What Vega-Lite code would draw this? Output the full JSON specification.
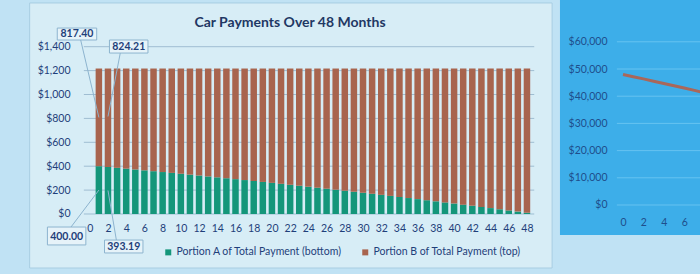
{
  "$schema": "https://vega.github.io/schema/vega-lite/v6.json",
  "background": "#c0e2f4",
  "width": 700,
  "height": 274,
  "autosize": {"type": "none"},
  "padding": 0,
  "config": {
    "font": "Lato",
    "view": {"stroke": null},
    "axis": {"labelFont": "Lato", "labelFontSize": 10.5, "labelColor": "#1f3f7a", "domain": false, "ticks": false, "grid": false, "zindex": 1, "labelOverlap": false, "labelFlush": false}
  },
  "title": {"text": "Car Payments Over 48 Months", "offset": -33, "dy": 4, "fontSize": 14, "fontWeight": "bold", "color": "#1f3864", "dx": -60, "anchor": "middle", "font": "Lato"},
  "datasets": {
    "pay": [
      {"m":1,"A":400.00,"B":817.40},{"m":2,"A":393.19,"B":824.21},{"m":3,"A":386.32,"B":831.08},{"m":4,"A":379.39,"B":838.01},
      {"m":5,"A":372.41,"B":844.99},{"m":6,"A":365.37,"B":852.03},{"m":7,"A":358.27,"B":859.13},{"m":8,"A":351.11,"B":866.29},
      {"m":9,"A":343.89,"B":873.51},{"m":10,"A":336.61,"B":880.79},{"m":11,"A":329.27,"B":888.13},{"m":12,"A":321.87,"B":895.53},
      {"m":13,"A":314.41,"B":902.99},{"m":14,"A":306.88,"B":910.52},{"m":15,"A":299.30,"B":918.10},{"m":16,"A":291.64,"B":925.76},
      {"m":17,"A":283.93,"B":933.47},{"m":18,"A":276.15,"B":941.25},{"m":19,"A":268.31,"B":949.09},{"m":20,"A":260.40,"B":957.00},
      {"m":21,"A":252.42,"B":964.98},{"m":22,"A":244.38,"B":973.02},{"m":23,"A":236.27,"B":981.13},{"m":24,"A":228.08,"B":989.32},
      {"m":25,"A":219.85,"B":997.55},{"m":26,"A":211.54,"B":1005.86},{"m":27,"A":203.16,"B":1014.24},{"m":28,"A":194.70,"B":1022.70},
      {"m":29,"A":186.18,"B":1031.22},{"m":30,"A":177.59,"B":1039.81},{"m":31,"A":168.92,"B":1048.48},{"m":32,"A":160.19,"B":1057.21},
      {"m":33,"A":151.37,"B":1066.03},{"m":34,"A":142.49,"B":1074.91},{"m":35,"A":133.53,"B":1083.87},{"m":36,"A":124.50,"B":1092.90},
      {"m":37,"A":115.39,"B":1102.01},{"m":38,"A":106.21,"B":1111.19},{"m":39,"A":96.95,"B":1120.45},{"m":40,"A":87.61,"B":1129.79},
      {"m":41,"A":78.20,"B":1139.20},{"m":42,"A":68.70,"B":1148.70},{"m":43,"A":59.13,"B":1158.27},{"m":44,"A":49.48,"B":1167.92},
      {"m":45,"A":39.75,"B":1177.65},{"m":46,"A":29.94,"B":1187.46},{"m":47,"A":20.04,"B":1197.36},{"m":48,"A":10.06,"B":1207.34}
    ],
    "ann": [
      {"t":"817.40","x1":-3.57,"x2":0.76,"y1":1456,"y2":1556,"tx":-1.41,"ty":1506,"lx1":-1.0,"ly1":1456,"lx2":1,"ly2":808},
      {"t":"400.00","x1":-4.65,"x2":-0.43,"y1":-259,"y2":-109,"tx":-2.54,"ty":-190,"lx1":-2.06,"ly1":-109,"lx2":1,"ly2":200},
      {"t":"824.21","x1":2.16,"x2":6.39,"y1":1347,"y2":1456,"tx":4.28,"ty":1401,"lx1":3.35,"ly1":1347,"lx2":2,"ly2":816},
      {"t":"393.19","x1":1.62,"x2":5.84,"y1":-326,"y2":-218,"tx":3.73,"ty":-272,"lx1":2.92,"ly1":-218,"lx2":2,"ly2":197}
    ],
    "one": [{}],
    "grid": [{"v":0},{"v":200},{"v":400},{"v":600},{"v":800},{"v":1000},{"v":1200},{"v":1400}],
    "rgrid": [{"v":0},{"v":10000},{"v":20000},{"v":30000},{"v":40000},{"v":50000},{"v":60000}],
    "bal": [
      {"m":0,"b":48000},{"m":1,"b":47182.60},{"m":2,"b":46358.39},{"m":3,"b":45527.31},{"m":4,"b":44689.30},
      {"m":5,"b":43844.31},{"m":6,"b":42992.28},{"m":7,"b":42133.15},{"m":8,"b":41266.86},{"m":9,"b":40393.35},
      {"m":10,"b":39512.56},{"m":11,"b":38624.43},{"m":12,"b":37728.90}
    ]
  },
  "layer": [
    {
      "layer": [
        {
          "data": {"name": "one"},
          "mark": {"type": "rect", "fill": "#d7edf6", "stroke": "#a8cde2", "strokeWidth": 1},
          "encoding": {
            "x": {"datum": -6.6, "type": "quantitative", "title": null, "scale": {"domain": [-9.307, 66.45], "nice": false, "zero": false},
                  "axis": {"orient": "bottom", "offset": -60, "tickCount": 60, "values": [0,2,4,6,8,10,12,14,16,18,20,22,24,26,28,30,32,34,36,38,40,42,44,46,48], "labelPadding": 9, "zindex": 1}},
            "x2": {"datum": 50.76},
            "y": {"datum": -452, "type": "quantitative", "title": null, "scale": {"domain": [-502.1, 1790.8], "nice": false, "zero": false},
                  "axis": {"orient": "left", "offset": -80, "tickCount": 20, "values": [0,200,400,600,800,1000,1200,1400], "format": "$,.0f", "labelPadding": 10, "zindex": 1}},
            "y2": {"datum": 1766}
          }
        },
        {
          "data": {"name": "grid"},
          "mark": {"type": "rule", "color": "#9fbdd2", "strokeWidth": 1},
          "encoding": {
            "x": {"datum": -0.65, "type": "quantitative"},
            "x2": {"datum": 48.8},
            "y": {"field": "v", "type": "quantitative", "title": null}
          }
        },
        {
          "data": {"name": "pay"},
          "transform": [{"fold": ["A", "B"], "as": ["portion", "amount"]}],
          "mark": {"type": "bar", "size": 6.5},
          "encoding": {
            "x": {"field": "m", "type": "quantitative", "title": null},
            "y": {"field": "amount", "type": "quantitative", "title": null, "stack": "zero"},
            "order": {"field": "portion", "sort": "ascending"},
            "color": {"field": "portion", "type": "nominal",
              "scale": {"domain": ["A", "B"], "range": ["#14967a", "#a8644e"]},
              "legend": {"orient": "none", "legendX": 163, "legendY": 247, "direction": "horizontal", "title": null,
                "symbolType": "square", "symbolSize": 36, "symbolStrokeWidth": 0, "labelFontSize": 10.5, "labelFont": "Lato", "labelColor": "#1f3f7a",
                "columnPadding": 17, "labelOffset": 3, "labelLimit": 0,
                "labelExpr": "datum.label == 'A' ? 'Portion A of Total Payment (bottom)' : 'Portion B of Total Payment (top)'"}}
          }
        },
        {
          "data": {"name": "ann"},
          "mark": {"type": "rule", "color": "#8db4cf", "strokeWidth": 1},
          "encoding": {
            "x": {"field": "lx1", "type": "quantitative", "title": null},
            "x2": {"field": "lx2"},
            "y": {"field": "ly1", "type": "quantitative", "title": null},
            "y2": {"field": "ly2"}
          }
        },
        {
          "data": {"name": "ann"},
          "mark": {"type": "rect", "fill": "#e6f3f9", "stroke": "#8db4cf", "strokeWidth": 1},
          "encoding": {
            "x": {"field": "x1", "type": "quantitative", "title": null},
            "x2": {"field": "x2"},
            "y": {"field": "y1", "type": "quantitative", "title": null},
            "y2": {"field": "y2"}
          }
        },
        {
          "data": {"name": "ann"},
          "mark": {"type": "text", "fontSize": 10.5, "fontWeight": "bold", "color": "#1f3f7a", "align": "center", "baseline": "middle", "font": "Lato"},
          "encoding": {
            "x": {"field": "tx", "type": "quantitative", "title": null},
            "y": {"field": "ty", "type": "quantitative", "title": null},
            "text": {"field": "t"}
          }
        }
      ]
    },
    {
      "layer": [
        {
          "data": {"name": "one"},
          "mark": {"type": "rect", "fill": "#3daee9"},
          "encoding": {
            "x": {"datum": -6.18, "type": "quantitative", "title": null, "scale": {"domain": [-61.08, 7.549], "nice": false, "zero": false},
                  "axis": {"orient": "bottom", "offset": -59, "tickCount": 20, "values": [0,2,4,6], "labelPadding": 2, "labelColor": "#1f4e8c", "zindex": 1}},
            "x2": {"datum": 9},
            "y": {"datum": -11030, "type": "quantitative", "title": null, "scale": {"domain": [-25368, 75368], "nice": false, "zero": false},
                  "axis": {"orient": "left", "offset": -610, "tickCount": 20, "values": [0,10000,20000,30000,40000,50000,60000], "format": "$,.0f", "labelPadding": 3, "labelColor": "#1f4e8c", "zindex": 1}},
            "y2": {"datum": 78000}
          }
        },
        {
          "data": {"name": "rgrid"},
          "mark": {"type": "rule", "color": "#66c3f1", "strokeWidth": 1},
          "encoding": {
            "x": {"datum": -0.6, "type": "quantitative"},
            "x2": {"datum": 9},
            "y": {"field": "v", "type": "quantitative", "title": null}
          }
        },
        {
          "data": {"name": "bal"},
          "mark": {"type": "line", "color": "#a9675a", "strokeWidth": 3, "clip": true},
          "encoding": {
            "x": {"field": "m", "type": "quantitative", "title": null},
            "y": {"field": "b", "type": "quantitative", "title": null}
          }
        }
      ]
    }
  ],
  "resolve": {"scale": {"x": "independent", "y": "independent", "color": "independent"}, "axis": {"x": "independent", "y": "independent"}}
}
